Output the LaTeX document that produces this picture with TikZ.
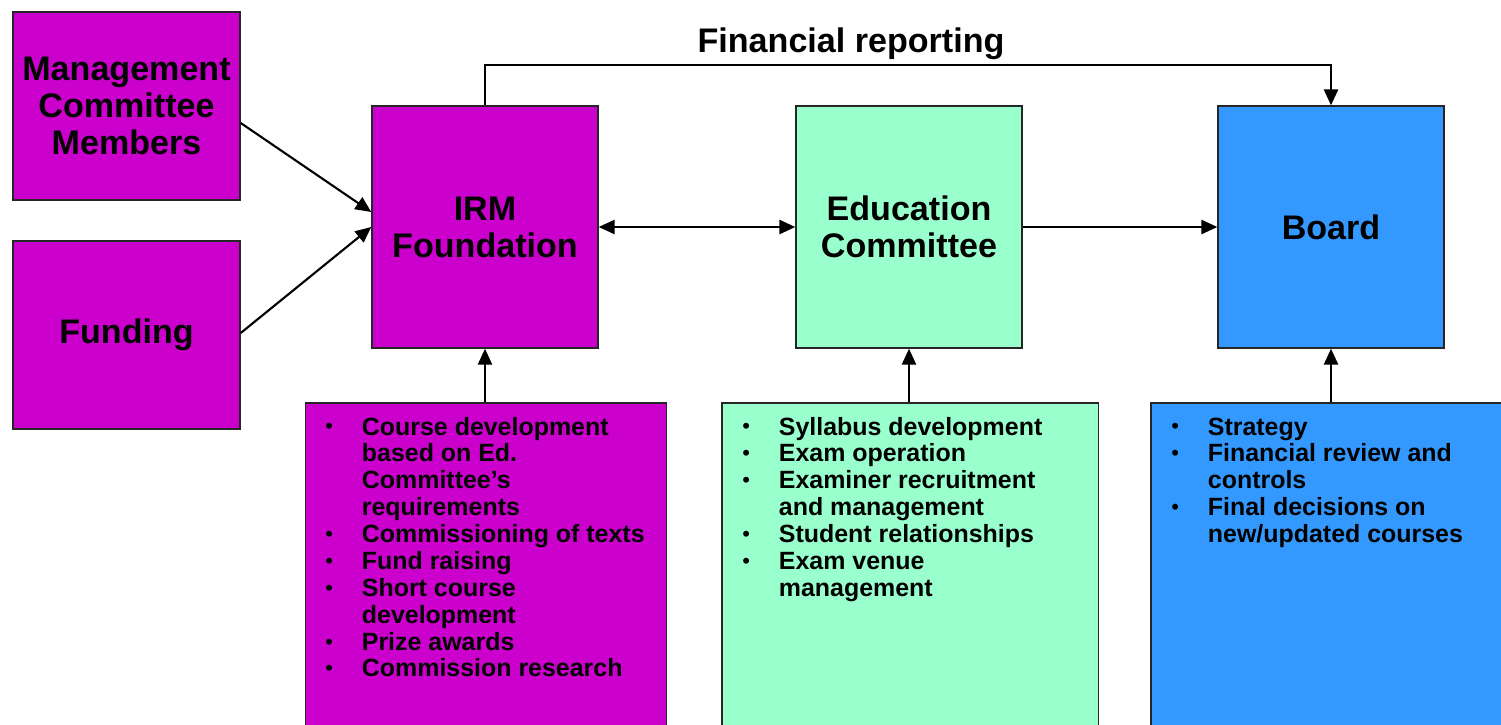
\documentclass[tikz,border=0pt]{standalone}
\usepackage{fontspec}
\setmainfont{Liberation Sans}
\usetikzlibrary{arrows.meta}
\definecolor{mag}{HTML}{CC00CC}
\definecolor{mint}{HTML}{99FFCC}
\definecolor{sky}{HTML}{3399FF}
\newcommand{\bul}{\makebox[20.8pt][l]{\raisebox{0.6pt}{\mdseries\fontsize{12.5}{12.5}\selectfont\textbullet}}}
\tikzset{
  box/.style={draw=black!85, line width=0.85pt, inner sep=0pt, align=center,
    font=\bfseries\fontsize{19.4}{21}\selectfont},
  bigbox/.style={box, minimum width=4.52cm, minimum height=4.84cm},
  smallbox/.style={box, minimum width=4.54cm, minimum height=3.76cm},
  listbox/.style={draw=black!85, line width=0.85pt, inner sep=0pt, anchor=north west, minimum height=6.9cm},
  listtext/.style={inner sep=0pt, anchor=base west, font=\bfseries\fontsize{14.2}{15.3}\selectfont},
  arr/.style={line width=1.2pt, -{Triangle[length=9pt,width=8pt]}},
  darr/.style={line width=1.2pt, {Triangle[length=9pt,width=8pt]}-{Triangle[length=9pt,width=8pt]}}
}
\begin{document}
\begin{tikzpicture}[x=0.02cm,y=-0.02cm]
\useasboundingbox (0,0) rectangle (1501,724);
\clip (0,0) rectangle (1501,724);
\node[smallbox, fill=mag] (mcm) at (126.5,106) {Management\\Committee\\Members};
\node[smallbox, fill=mag] (fund) at (126.5,335) {Funding};
\node[bigbox, fill=mag] (irm) at (485,227) {IRM\\Foundation};
\node[bigbox, fill=mint] (edu) at (909,227) {Education\\Committee};
\node[bigbox, fill=sky] (board) at (1331,227) {Board};

\node[listbox, fill=mag, minimum width=7.22cm] (irml) at (305,402) {};
\node[listbox, fill=mint, minimum width=7.54cm] (edul) at (721,402) {};
\node[listbox, fill=sky, minimum width=7.4cm] (boardl) at (1150,402) {};

\node[listtext] (irmt) at (325,435) {\begin{tabular}[t]{@{}l@{}l@{}}
\bul & Course development\\
 & based on Ed.\\
 & Committee’s\\
 & requirements\\
\bul & Commissioning of texts\\
\bul & Fund raising\\
\bul & Short course\\
 & development\\
\bul & Prize awards\\
\bul & Commission research
\end{tabular}};
\node[listtext] (edut) at (742,435) {\begin{tabular}[t]{@{}l@{}l@{}}
\bul & Syllabus development\\
\bul & Exam operation\\
\bul & Examiner recruitment\\
 & and management\\
\bul & Student relationships\\
\bul & Exam venue\\
 & management
\end{tabular}};
\node[listtext] (boardt) at (1171,435) {\begin{tabular}[t]{@{}l@{}l@{}}
\bul & Strategy\\
\bul & Financial review and\\
 & controls\\
\bul & Final decisions on\\
 & new/updated courses
\end{tabular}};

\node[inner sep=0pt, anchor=base, font=\bfseries\fontsize{19.4}{21}\selectfont] (fr) at (851,52) {Financial reporting};

\draw[arr] ([yshift=-0.34cm]mcm.east) -- ([yshift=0.3cm]irm.west);
\draw[arr] ([yshift=0.04cm]fund.east) -- (irm.west);
\draw[darr] (irm.east) -- (edu.west);
\draw[arr] (edu.east) -- (board.west);
\draw[arr] (irm.north) -- ++(0,-40) -| (board.north);
\draw[arr] (irm.south |- irml.north) -- (irm.south);
\draw[arr] (edu.south |- edul.north) -- (edu.south);
\draw[arr] (board.south |- boardl.north) -- (board.south);
\end{tikzpicture}
\end{document}
